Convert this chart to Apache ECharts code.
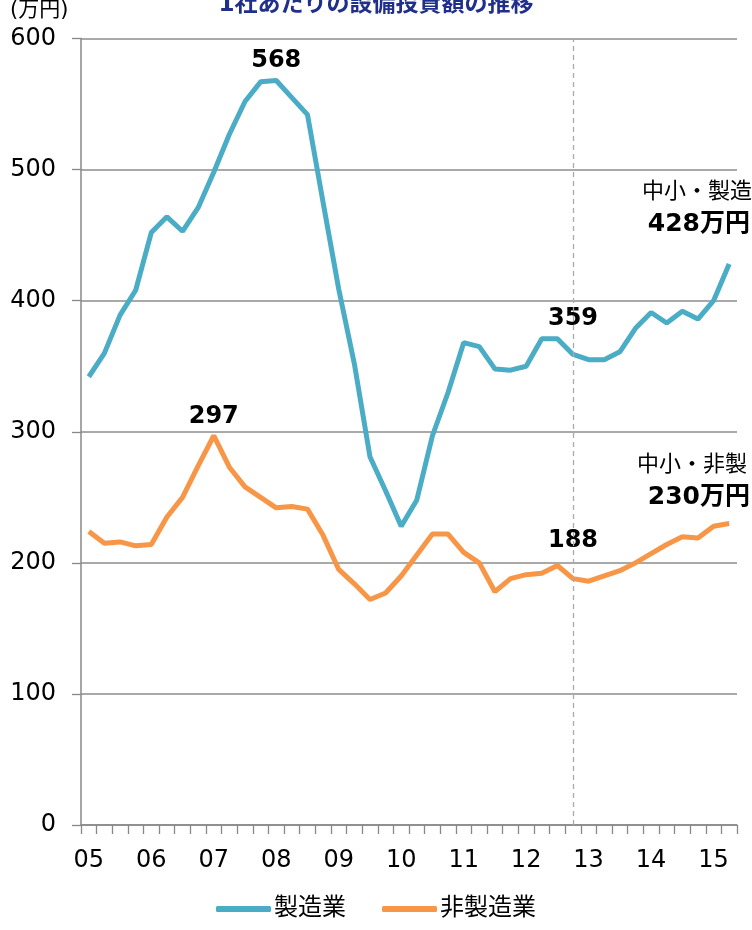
<!DOCTYPE html>
<html><head><meta charset="utf-8">
<script src="https://cdn.jsdelivr.net/npm/echarts@6/dist/echarts.min.js"></script>
<style>html,body{margin:0;padding:0;background:#fff}#c{width:752px;height:930px}</style>
</head><body><div id="c"></div>
<script>
const categories = ['05','','','','06','','','','07','','','','08','','','','09','','','','10','','','','11','','','','12','','','','13','','','','14','','','','15',''];
const manufacturing = [342,360,389,408,452,464,453,471,498,527,552,567,568,555,542,475,409,352,281,255,228,248,297,330,368,365,348,347,350,371,371,359,355,355,361,379,391,383,392,386,400,428];
const nonManufacturing = [224,215,216,213,214,235,250,274,297,273,258,250,242,243,241,221,195,184,172,177,190,206,222,222,208,200,178,188,191,192,198,188,186,190,194,200,207,214,220,219,228,230];
const seriesNames = ['製造業','非製造業'];
const yTicks = [0,100,200,300,400,500,600];
const mfgLabelIdx = [12,31];
const nonLabelIdx = [8,31];
const dividerIdx = 31;

const FONT = '"DejaVu Sans","Noto Sans CJK JP",sans-serif';
const BLUE = '#4bacc6', ORANGE = '#f79646';

function withLabels(arr, idxs, dists){
  return arr.map((v,i)=>{
    const k = idxs.indexOf(i);
    if(k<0) return {value:v, label:{show:false}};
    return {value:v, label:{show:true, position:'top', distance:dists[k], fontSize:24, fontWeight:'bold', color:'#000', fontFamily:FONT}};
  });
}

const chart = echarts.init(document.getElementById('c'));
chart.setOption({
  animation:false,
  textStyle:{fontFamily:FONT},
  grid:{left:81, right:15, top:38.6, bottom:105, containLabel:false},
  xAxis:{
    type:'category', data:categories, boundaryGap:true,
    axisLine:{lineStyle:{color:'#888', width:1.5}},
    axisTick:{show:true, interval:0, length:9, lineStyle:{color:'#888', width:1.3}},
    axisLabel:{interval:0, color:'#000', fontSize:24, margin:24, fontFamily:FONT},
    splitLine:{show:false}
  },
  yAxis:{
    type:'value', min:0, max:600, interval:100,
    axisLine:{show:true, lineStyle:{color:'#888', width:1.5}},
    axisTick:{show:true, length:9, lineStyle:{color:'#888', width:1.3}},
    axisLabel:{color:'#000', fontSize:24, margin:25, fontFamily:FONT,
      formatter:v=>yTicks.includes(v)?String(v):''},
    splitLine:{show:true, lineStyle:{color:'#8c8c8c', width:1.5}}
  },
  legend:{
    bottom:4, left:'center', itemWidth:55, itemHeight:6, itemGap:36,
    icon:'roundRect',
    textStyle:{fontSize:24, color:'#000', fontFamily:FONT, padding:[0,0,0,-2]},
    data:seriesNames
  },
  series:[
    {name:seriesNames[0], type:'line', data:withLabels(manufacturing, mfgLabelIdx, [8,24]),
     symbol:'circle', symbolSize:0, showSymbol:true,
     lineStyle:{color:BLUE, width:5}, itemStyle:{color:BLUE},
     markLine:{silent:true, symbol:'none', label:{show:false},
       lineStyle:{color:'#aaa', type:[5,4], width:1.3},
       data:[{xAxis:dividerIdx}]}
    },
    {name:seriesNames[1], type:'line', data:withLabels(nonManufacturing, nonLabelIdx, [7,26]),
     symbol:'circle', symbolSize:0, showSymbol:true,
     lineStyle:{color:ORANGE, width:5}, itemStyle:{color:ORANGE}}
  ],
  graphic:[
    {type:'text', left:10, top:0, style:{text:'(万円)', fontSize:21, fill:'#000', fontFamily:FONT}},
    {type:'text', left:'center', top:-6, style:{text:'1社あたりの設備投資額の推移', fontSize:23, fontWeight:'bold', fill:'#1f2f8a', fontFamily:FONT}},
    {type:'text', right:0, top:181, style:{text:'中小・製造', fontSize:22, fill:'#000', fontFamily:FONT, align:'right'}},
    {type:'text', right:2, top:212, style:{text:'428万円', fontSize:25, fontWeight:'bold', fill:'#000', fontFamily:FONT, align:'right'}},
    {type:'text', right:5, top:454, style:{text:'中小・非製', fontSize:22, fill:'#000', fontFamily:FONT, align:'right'}},
    {type:'text', right:2, top:485, style:{text:'230万円', fontSize:25, fontWeight:'bold', fill:'#000', fontFamily:FONT, align:'right'}}
  ]
});
</script></body></html>
